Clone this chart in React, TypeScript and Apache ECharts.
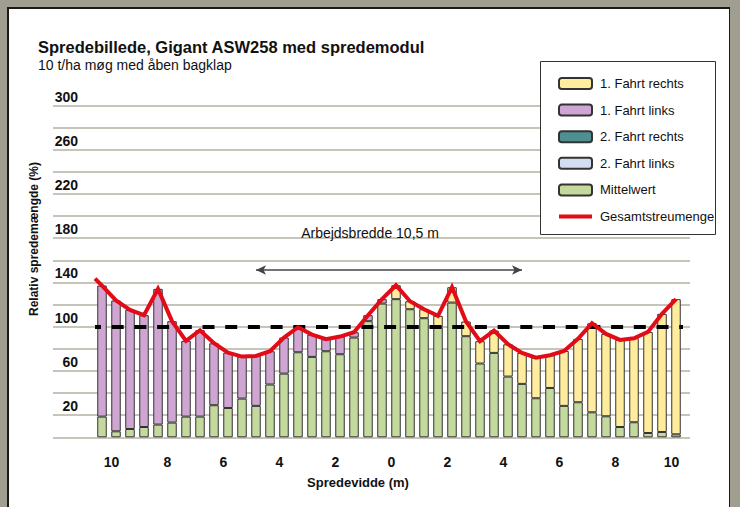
import React, { useEffect, useRef } from "react";
import * as echarts from "echarts";

// bar centres (m from tractor centre, negative = left)
const positions = [
  -10.25, -9.75, -9.25, -8.75, -8.25, -7.75, -7.25, -6.75, -6.25, -5.75, -5.25,
  -4.75, -4.25, -3.75, -3.25, -2.75, -2.25, -1.75, -1.25, -0.75, -0.25,
  0.25, 0.75, 1.25, 1.75, 2.25, 2.75, 3.25, 3.75, 4.25, 4.75,
  5.25, 5.75, 6.25, 6.75, 7.25, 7.75, 8.25, 8.75, 9.25, 9.75, 10.25,
];

const mittelwert = [
  18.7, 5.4, 7.5, 9.3, 11.5, 13.3, 18.7, 18.7, 29, 26.5, 35,
  28.4, 47.7, 57.6, 76.9, 72.7, 77.8, 75.1, 90.2, 105, 120.9,
  124.9, 115.8, 107.7, 99.5, 121.8, 91.4, 66.7, 76.3, 54.9, 48.3,
  35.3, 44.6, 28.4, 31.7, 22.6, 19, 9.3, 13.6, 3.9, 4.8, 2.7,
];

const fahrt1Links: (number | null)[] = [
  118.5, 118.3, 107.7, 101.1, 122.7, 91.7, 68.5, 78.1, 56, 50.1, 38,
  45.2, 30.1, 32.6, 22.6, 20.2, 10.9, 16, 4.8, 5.4, 4,
  null, null, null, null, null, null, null, null, null, null,
  null, null, null, null, null, null, null, null, null, null, null,
];

const fahrt1Rechts: (number | null)[] = [
  null, null, null, null, null, null, null, null, null, null, null,
  null, null, null, null, null, null, null, null, null, null,
  12.6, 7.2, 8.1, 10.3, 13.9, 13.3, 20.2, 20.2, 29.2, 28,
  36.7, 29.6, 49.7, 57.3, 80.5, 74.5, 78.8, 76, 91.4, 106.8, 122.2,
];

const fahrt2Rechts: (number | null)[] = [];
const fahrt2Links: (number | null)[] = [];

const gesamt = [
  137.2, 123.7, 115.2, 110.4, 134.2, 105, 87.2, 96.8, 85, 76.6, 73,
  73.6, 77.8, 90.2, 99.5, 92.9, 88.7, 91.1, 95, 110.4, 124.9,
  137.5, 123, 115.8, 109.8, 135.7, 104.7, 86.9, 96.5, 84.1, 76.3,
  72, 74.2, 78.1, 89, 103.1, 93.5, 88.1, 89.6, 95.3, 111.6, 124.9,
];
const gesamtStart = { x: -10.5, y: 143.5 };

const arbeitsbreite = 10.5;
const sollwert = 100;

const yTickLabels = [20, 60, 100, 140, 180, 220, 260, 300];
const xTickLabels = [-10, -8, -6, -4, -2, 0, 2, 4, 6, 8, 10];

const FONT = '"Liberation Sans", Arial, sans-serif';
const BORDER = "#333333";
const RED = "#e30b17";

export default function App() {
  const ref = useRef<HTMLDivElement>(null);

  useEffect(() => {
    document.body.style.margin = "0";
    if (!ref.current) return;
    const chart = echarts.init(ref.current, undefined, { renderer: "svg" });

    const barBase = {
      type: "bar" as const,
      stack: "total",
      barWidth: 9.5,
      silent: true,
      xAxisIndex: 0,
      yAxisIndex: 0,
    };

    chart.setOption({
      animation: false,
      textStyle: { fontFamily: FONT },
      title: {
        text: "Spredebillede, Gigant ASW258 med spredemodul",
        subtext: "10 t/ha møg med åben bagklap",
        left: 33,
        top: 33,
        itemGap: 3,
        textStyle: { fontFamily: FONT, fontSize: 16.5, fontWeight: "bold", color: "#111" },
        subtextStyle: { fontFamily: FONT, fontSize: 14, color: "#111" },
      },
      grid: [
        { left: 95, right: 57, top: 105.5, bottom: 69.7 },
        { left: 53, right: 50, top: 105.5, bottom: 69.7 },
      ],
      xAxis: [
        {
          type: "category",
          gridIndex: 0,
          data: positions.map(String),
          show: false,
        },
        {
          type: "value",
          gridIndex: 1,
          min: -12,
          max: 10.75,
          interval: 2,
          axisLine: { show: false },
          axisTick: { show: false },
          splitLine: { show: false },
          axisLabel: {
            margin: 18,
            fontFamily: FONT,
            fontSize: 14,
            fontWeight: "bold",
            color: "#111",
            padding: [0, 0, 0, 5],
            formatter: (v: number) =>
              xTickLabels.indexOf(v) >= 0 ? String(Math.abs(v)) : "",
          },
        },
      ],
      yAxis: [
        {
          type: "value",
          gridIndex: 0,
          min: 0,
          max: 300,
          interval: 20,
          show: false,
          splitLine: { show: false },
        },
        {
          type: "value",
          gridIndex: 1,
          min: 0,
          max: 300,
          interval: 20,
          axisLine: { show: false },
          axisTick: { show: false },
          splitLine: { lineStyle: { color: "#b4b2a2", width: 1.5 } },
          axisLabel: {
            inside: true,
            margin: 25,
            align: "right",
            verticalAlign: "bottom",
            padding: [0, 0, 2, 0],
            fontFamily: FONT,
            fontSize: 14,
            fontWeight: "bold",
            color: "#111",
            formatter: (v: number) => (yTickLabels.indexOf(v) >= 0 ? String(v) : ""),
          },
        },
      ],
      legend: {
        orient: "vertical",
        left: 553,
        top: 72,
        padding: 5,
        itemWidth: 33,
        itemHeight: 11,
        itemGap: 13.6,
        z: 20,
        selectedMode: false,
        data: [
          { name: "1. Fahrt rechts" },
          { name: "1. Fahrt links" },
          { name: "2. Fahrt rechts" },
          { name: "2. Fahrt links" },
          { name: "Mittelwert" },
          {
            name: "Gesamtstreumenge",
            icon: "path://M0,0L33,0L33,4L0,4Z",
            itemStyle: { color: RED, borderWidth: 0 },
          },
        ],
        textStyle: {
          fontFamily: FONT,
          fontSize: 13,
          lineHeight: 12,
          color: "#111",
          padding: [0, 0, 0, 3],
        },
      },
      graphic: [
        {
          type: "rect",
          z: 10,
          shape: { x: 540.5, y: 61.5, width: 175, height: 173 },
          style: { fill: "#ffffff", stroke: "#333", lineWidth: 1 },
          silent: true,
        },
        {
          type: "text",
          z: 10,
          x: 370,
          y: 233,
          style: {
            text: "Arbejdsbredde 10,5 m",
            fontFamily: FONT,
            fontSize: 14,
            fill: "#111",
            align: "center",
            verticalAlign: "middle",
          },
          silent: true,
        },
        {
          type: "text",
          z: 10,
          x: 33.5,
          y: 239,
          rotation: Math.PI / 2,
          style: {
            text: "Relativ spredemængde (%)",
            fontFamily: FONT,
            fontSize: 12,
            fontWeight: "bold",
            fill: "#111",
            align: "center",
            verticalAlign: "middle",
          },
          silent: true,
        },
        {
          type: "text",
          z: 10,
          x: 358,
          y: 482,
          style: {
            text: "Spredevidde (m)",
            fontFamily: FONT,
            fontSize: 13,
            fontWeight: "bold",
            fill: "#111",
            align: "center",
            verticalAlign: "middle",
          },
          silent: true,
        },
      ],
      series: [
        {
          ...barBase,
          name: "Mittelwert",
          data: mittelwert,
          itemStyle: { color: "#c4d99d", borderColor: BORDER, borderWidth: 1 },
        },
        {
          ...barBase,
          name: "2. Fahrt links",
          data: fahrt2Links,
          itemStyle: { color: "#d3ddf1", borderColor: BORDER, borderWidth: 1 },
        },
        {
          ...barBase,
          name: "2. Fahrt rechts",
          data: fahrt2Rechts,
          itemStyle: { color: "#4f8e92", borderColor: BORDER, borderWidth: 1 },
        },
        {
          ...barBase,
          name: "1. Fahrt links",
          data: fahrt1Links,
          itemStyle: { color: "#cfa6d1", borderColor: BORDER, borderWidth: 1 },
        },
        {
          ...barBase,
          name: "1. Fahrt rechts",
          data: fahrt1Rechts,
          itemStyle: { color: "#ffec9c", borderColor: BORDER, borderWidth: 1 },
        },
        {
          type: "line",
          name: "annot",
          xAxisIndex: 1,
          yAxisIndex: 1,
          data: [],
          silent: true,
          clip: false,
          z: 4,
          markLine: {
            silent: true,
            symbol: ["none", "none"],
            label: { show: false },
            emphasis: { disabled: true },
            animation: false,
            data: [
              [
                {
                  coord: [-10.5, sollwert],
                  lineStyle: { color: "#000", width: 4, type: [12, 10.7], dashOffset: 6 },
                },
                { coord: [10.5, sollwert] },
              ],
              [
                { coord: [-arbeitsbreite / 2, 161], lineStyle: { color: "#222", width: 1, type: "solid" } },
                { coord: [-arbeitsbreite / 2, -2.5] },
              ],
              [
                { coord: [arbeitsbreite / 2, 161], lineStyle: { color: "#222", width: 1, type: "solid" } },
                { coord: [arbeitsbreite / 2, -2.5] },
              ],
              [
                {
                  coord: [-4.75, 151.3],
                  symbol: "arrow",
                  symbolSize: [7, 10],
                  lineStyle: { color: "#444", width: 1.5, type: "solid" },
                },
                { coord: [4.75, 151.3], symbol: "arrow", symbolSize: [7, 10] },
              ],
            ],
          },
        },
        {
          type: "line",
          name: "Gesamtstreumenge",
          xAxisIndex: 1,
          yAxisIndex: 1,
          data: [
            [gesamtStart.x, gesamtStart.y],
            ...positions.map((x, i) => [x, gesamt[i]]),
          ],
          symbol: "none",
          silent: true,
          z: 6,
          itemStyle: { color: RED },
          lineStyle: { color: RED, width: 4, join: "miter" },
        },
      ],
    });

    return () => chart.dispose();
  }, []);

  return (
    <div style={{ position: "relative", width: 740, height: 507, background: "#a09e91", overflow: "hidden" }}>
      <div
        style={{
          position: "absolute",
          left: 7,
          top: 6.5,
          width: 720,
          height: 520,
          background: "#ffffff",
          borderLeft: "2px solid #1a1a1a",
          borderTop: "2px solid #1a1a1a",
          borderRight: "1px solid #1a1a1a",
        }}
      />
      <div ref={ref} style={{ position: "absolute", left: 0, top: 0, width: 740, height: 507 }} />
    </div>
  );
}
